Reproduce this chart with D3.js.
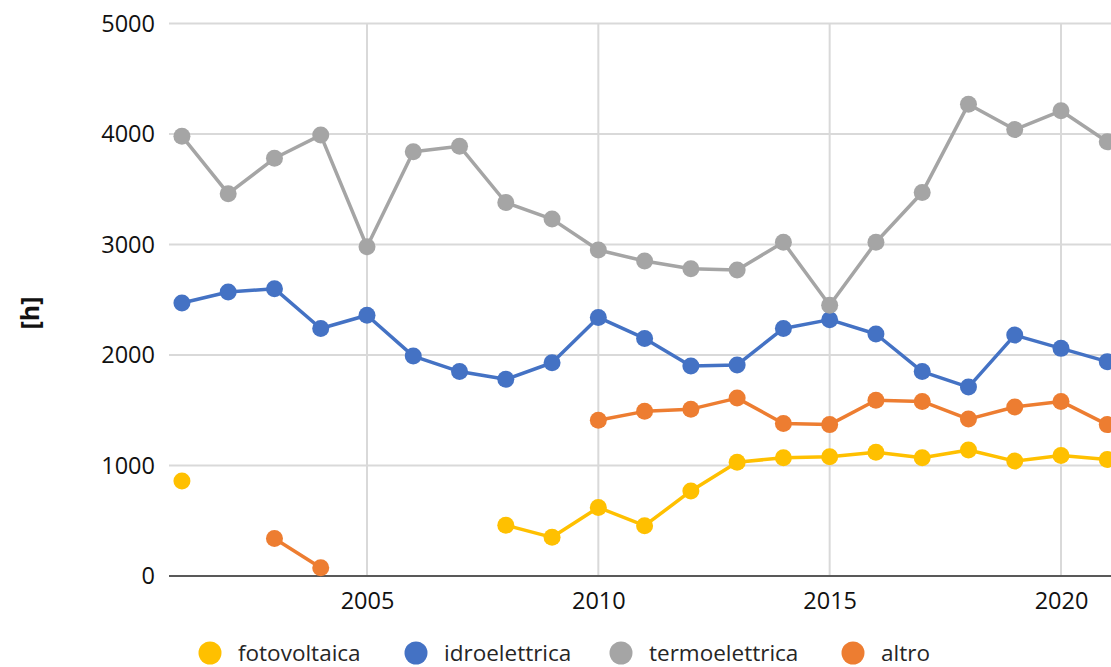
<!DOCTYPE html>
<html>
<head>
<meta charset="utf-8">
<script src="https://cdn.jsdelivr.net/npm/d3@7"></script>
<style>
  body { margin: 0; background: #fff; }
  svg { display: block; font-family: "Open Sans", "Noto Sans", sans-serif; }
</style>
</head>
<body>
<div id="container"></div>
<script>
// Data
var years = [2001, 2002, 2003, 2004, 2005, 2006, 2007, 2008, 2009, 2010, 2011,
             2012, 2013, 2014, 2015, 2016, 2017, 2018, 2019, 2020, 2021];

var fotovoltaica = [860, null, null, null, null, null, null, 460, 350, 620, 455,
                    770, 1030, 1070, 1080, 1120, 1070, 1140, 1040, 1090, 1055];
var idroelettrica = [2470, 2570, 2600, 2240, 2360, 1990, 1850, 1780, 1930, 2340, 2150,
                     1900, 1910, 2240, 2320, 2190, 1850, 1710, 2180, 2060, 1940];
var termoelettrica = [3980, 3460, 3780, 3990, 2980, 3840, 3890, 3380, 3230, 2950, 2850,
                      2780, 2770, 3020, 2450, 3020, 3470, 4270, 4040, 4210, 3930];
var altro = [null, null, 340, 75, null, null, null, null, null, 1410, 1490,
             1510, 1610, 1380, 1370, 1590, 1580, 1420, 1530, 1580, 1370];

var yTicks = [0, 1000, 2000, 3000, 4000, 5000];
var xTicks = [2005, 2010, 2015, 2020];

var series = [
    { name: 'fotovoltaica', values: fotovoltaica, color: '#FFC000' },
    { name: 'idroelettrica', values: idroelettrica, color: '#4472C4' },
    { name: 'termoelettrica', values: termoelettrica, color: '#A5A5A5' },
    { name: 'altro', values: altro, color: '#ED7D31' }
];

// Basic parameters
var WIDTH = 1111,
    HEIGHT = 667,
    FONT = '"Open Sans", "Noto Sans", sans-serif';

var svg = d3.select('#container')
    .append('svg')
    .attr('width', WIDTH)
    .attr('height', HEIGHT);

var x = d3.scaleLinear()
    .domain([2005, 2020])
    .range([367, 1061]);

var y = d3.scaleLinear()
    .domain([0, 5000])
    .range([576, 23.5]);

// horizontal gridlines
svg.selectAll('.hgrid')
    .data(yTicks.filter(function(d) { return d > 0; }))
    .enter()
    .append('line')
    .attr('x1', 169)
    .attr('x2', WIDTH)
    .attr('y1', function(d) { return y(d); })
    .attr('y2', function(d) { return y(d); })
    .attr('stroke', '#D9D9D9')
    .attr('stroke-width', 2);

// vertical gridlines
svg.selectAll('.vgrid')
    .data(xTicks)
    .enter()
    .append('line')
    .attr('x1', function(d) { return x(d); })
    .attr('x2', function(d) { return x(d); })
    .attr('y1', y(5000))
    .attr('y2', y(0))
    .attr('stroke', '#D9D9D9')
    .attr('stroke-width', 2);

// y axis labels
var yAxis = d3.axisLeft(y)
    .tickValues(yTicks)
    .tickSize(0)
    .tickPadding(14)
    .tickFormat(d3.format('d'));

svg.append('g')
    .attr('transform', 'translate(169,0)')
    .call(yAxis)
    .call(function(g) { g.select('.domain').remove(); })
    .selectAll('text')
    .attr('font-size', 23.5)
    .attr('fill', '#111')
    .style('font-family', FONT);

// x axis
var xAxis = d3.axisBottom(x)
    .tickValues(xTicks)
    .tickSize(0)
    .tickPadding(16)
    .tickFormat(d3.format('d'));

var gx = svg.append('g')
    .attr('transform', 'translate(0,' + y(0) + ')')
    .call(xAxis);

gx.select('.domain').remove();
gx.append('line')
    .attr('x1', 169)
    .attr('x2', WIDTH)
    .attr('stroke', '#595959')
    .attr('stroke-width', 2);
gx.selectAll('text')
    .attr('font-size', 23.5)
    .attr('fill', '#111')
    .style('font-family', FONT);

// y axis title
svg.append('text')
    .attr('transform', 'translate(30,313) rotate(-90)')
    .attr('text-anchor', 'middle')
    .attr('dy', '0.35em')
    .attr('font-size', 25)
    .attr('font-weight', 'bold')
    .attr('fill', '#111')
    .text('[h]');

// lines and markers
var line = d3.line()
    .defined(function(d) { return d.v !== null; })
    .x(function(d) { return x(d.year); })
    .y(function(d) { return y(d.v); });

series.forEach(function(s) {
    var pts = years.map(function(yr, i) { return { year: yr, v: s.values[i] }; });

    svg.append('path')
        .datum(pts)
        .attr('d', line)
        .attr('fill', 'none')
        .attr('stroke', s.color)
        .attr('stroke-width', 3.5)
        .attr('stroke-linejoin', 'round');

    svg.selectAll('.pt-' + s.name)
        .data(pts.filter(function(d) { return d.v !== null; }))
        .enter()
        .append('circle')
        .attr('class', 'pt-' + s.name)
        .attr('cx', function(d) { return x(d.year); })
        .attr('cy', function(d) { return y(d.v); })
        .attr('r', 8.5)
        .attr('fill', s.color);
});

// legend
var legendX = [210, 416, 621, 853];

var legend = svg.selectAll('.legend')
    .data(series)
    .enter()
    .append('g')
    .attr('class', 'legend')
    .attr('transform', function(d, i) { return 'translate(' + legendX[i] + ',653)'; });

legend.append('circle')
    .attr('r', 11.5)
    .attr('fill', function(d) { return d.color; });

legend.append('text')
    .attr('x', 28)
    .attr('dy', '0.35em')
    .attr('font-size', 22.5)
    .attr('fill', '#262626')
    .text(function(d) { return d.name; });
</script>
</body>
</html>
